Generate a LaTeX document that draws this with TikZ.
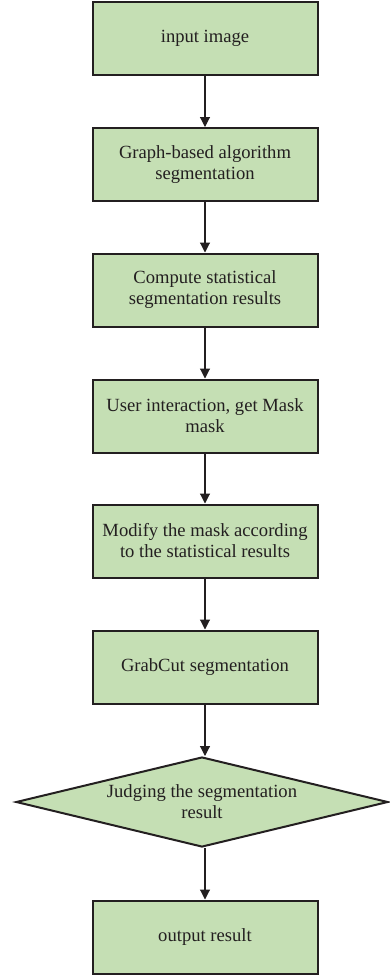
\documentclass[tikz,border=0pt]{standalone}
\usepackage{fontspec}
\setmainfont{Liberation Serif}
\usetikzlibrary{shapes.geometric,arrows.meta}
\definecolor{boxfill}{HTML}{C5DFB4}
\definecolor{ink}{HTML}{231F20}
\begin{document}
\begin{tikzpicture}[x=1pt,y=1pt,
  procbox/.style={draw=ink,line width=2pt,fill=boxfill,minimum width=225pt,minimum height=73pt,
    inner sep=0pt,align=center,text=ink,font=\fontsize{18.6}{21}\selectfont},
  decbox/.style={diamond,aspect=4.1,draw=ink,line width=2pt,fill=boxfill,minimum width=372pt,minimum height=90pt,
    inner sep=0pt,align=center,text=ink,font=\fontsize{18.6}{21}\selectfont},
  flow/.style={draw=ink,line width=1.1pt,-{Triangle[width=10pt,length=10pt]}}]
\useasboundingbox (0,0) rectangle (389,-975);
\node[procbox] (n1) at (205,-38.5) {input image};
\node[procbox] (n2) at (205,-164.5) {Graph-based algorithm\\segmentation};
\node[procbox] (n3) at (205,-290) {Compute statistical\\segmentation results};
\node[procbox] (n4) at (205,-416) {User interaction, get Mask\\mask};
\node[procbox] (n5) at (205,-541) {Modify the mask according\\to the statistical results};
\node[procbox] (n6) at (205,-667) {GrabCut segmentation};
\node[decbox] (d1) at (202,-802) {Judging the segmentation\\result};
\node[procbox] (n7) at (205,-937) {output result};
\draw[flow] (n1.south) -- (n2.north);
\draw[flow] (n2.south) -- (n3.north);
\draw[flow] (n3.south) -- (n4.north);
\draw[flow] (n4.south) -- (n5.north);
\draw[flow] (n5.south) -- (n6.north);
\draw[flow] (n6.south) -- (n6.south |- d1.north);
\draw[flow] (n6.south |- d1.south) -- (n7.north);
\end{tikzpicture}
\end{document}
